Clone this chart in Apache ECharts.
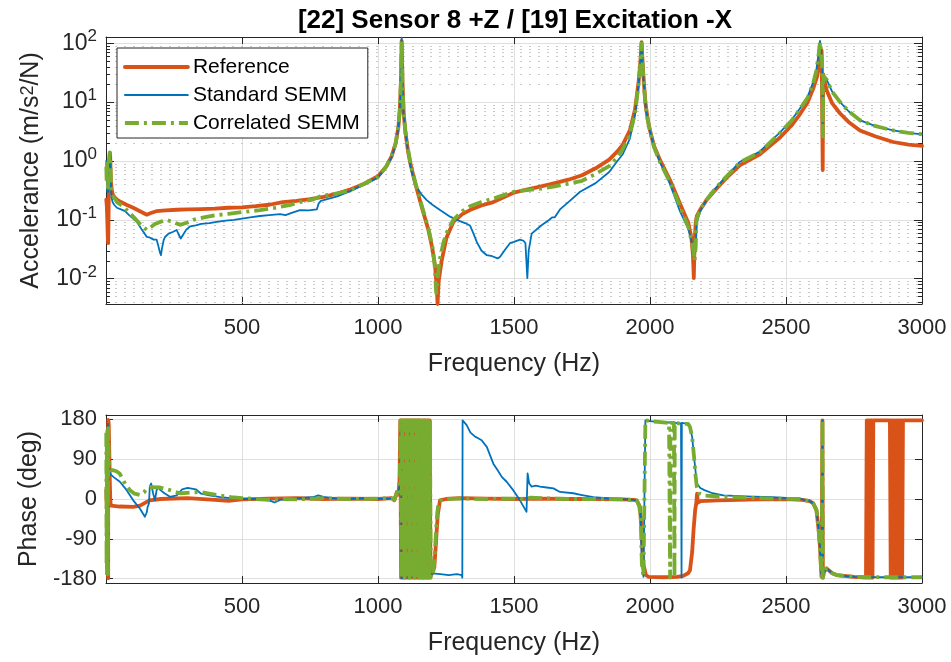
<!DOCTYPE html>
<html>
<head>
<meta charset="utf-8">
<script src="https://cdn.jsdelivr.net/npm/echarts@6/dist/echarts.min.js"></script>
<style>
  html, body { margin: 0; padding: 0; background: #fff; }
  #chart { width: 951px; height: 662px; }
</style>
</head>
<body>
<div id="chart"></div>
<script>
// ---------- FRF magnitude, [frequency Hz, accelerance m/s^2/N] ----------
const refMag = [[1,0.22],[3,0.17],[5,0.09],[6.5,0.05],[8,0.04],[9.5,0.12],[11,0.45],[13,0.9],[15,1.36],[16.5,0.8],[18,0.45],[21,0.32],[25,0.27],[32,0.24],[40,0.22],[55,0.2],[75,0.18],[100,0.16],[125,0.14],[150,0.122],[165,0.13],[185,0.14],[220,0.145],[260,0.148],[300,0.15],[350,0.152],[400,0.155],[450,0.16],[500,0.163],[550,0.17],[600,0.18],[650,0.2],[700,0.21],[750,0.225],[800,0.245],[850,0.28],[900,0.33],[950,0.41],[1000,0.55],[1030,0.8],[1050,1.2],[1065,2.0],[1075,3.8],[1080,7],[1084,20],[1087,110],[1090,22],[1094,7],[1100,3.3],[1110,1.5],[1118,0.95],[1136,0.43],[1160,0.17],[1185,0.068],[1200,0.032],[1210,0.016],[1216,0.007],[1219,0.0037],[1223,0.009],[1234,0.02],[1252,0.05],[1277,0.092],[1310,0.125],[1338,0.146],[1380,0.175],[1424,0.2],[1470,0.25],[1500,0.29],[1550,0.33],[1600,0.37],[1650,0.42],[1700,0.48],[1750,0.57],[1800,0.75],[1850,1.05],[1880,1.45],[1900,1.9],[1926,3.3],[1945,7.5],[1958,22],[1965,50],[1969,105],[1973,45],[1978,20],[1984,9],[1992,5],[2000,3.3],[2015,1.8],[2037,1.03],[2074,0.47],[2110,0.19],[2141,0.088],[2152,0.05],[2158,0.025],[2161,0.0102],[2164,0.04],[2168,0.09],[2172,0.115],[2185,0.15],[2208,0.216],[2245,0.34],[2282,0.52],[2331,0.85],[2404,1.3],[2478,2.5],[2520,4],[2551,6.2],[2580,10],[2600,17],[2615,28],[2625,55],[2631,75],[2634,80],[2635,0.7],[2636.5,30],[2640,25],[2649,16],[2670,9.5],[2699,6.4],[2730,4.6],[2772,3.3],[2830,2.6],[2894,2.1],[2950,1.9],[3000,1.8]];

const stdMag = [[1,1.0],[2.5,0.6],[4,0.3],[5.5,0.8],[7,0.45],[8.5,0.3],[10,0.7],[12,1.1],[14,1.3],[15.5,1.2],[17,0.5],[20,0.25],[24,0.2],[30,0.18],[40,0.16],[55,0.15],[70,0.14],[85,0.12],[100,0.105],[115,0.09],[130,0.07],[140,0.06],[150,0.051],[160,0.05],[175,0.046],[186,0.046],[193,0.035],[198,0.028],[202,0.025],[206,0.033],[212,0.045],[217,0.051],[230,0.058],[245,0.062],[260,0.067],[268,0.055],[275,0.048],[283,0.055],[295,0.068],[309,0.077],[330,0.08],[350,0.085],[380,0.088],[407,0.092],[440,0.097],[470,0.1],[500,0.105],[530,0.11],[566,0.116],[600,0.12],[640,0.125],[660,0.12],[680,0.13],[713,0.146],[745,0.145],[775,0.15],[782,0.19],[790,0.21],[850,0.25],[900,0.31],[950,0.4],[1000,0.52],[1030,0.78],[1050,1.15],[1065,1.9],[1075,3.7],[1080,7],[1084,20],[1087,125],[1090,20],[1094,6],[1100,3.2],[1110,1.5],[1118,0.85],[1130,0.5],[1142,0.36],[1160,0.27],[1179,0.216],[1200,0.18],[1228,0.146],[1265,0.113],[1301,0.095],[1320,0.088],[1338,0.08],[1350,0.06],[1363,0.042],[1380,0.03],[1400,0.025],[1420,0.024],[1440,0.022],[1449,0.0235],[1465,0.03],[1485,0.04],[1500,0.042],[1522,0.046],[1535,0.044],[1542,0.04],[1549,0.0102],[1554,0.03],[1565,0.058],[1600,0.08],[1630,0.1],[1640,0.11],[1645,0.115],[1650,0.11],[1669,0.15],[1700,0.2],[1743,0.3],[1800,0.42],[1850,0.65],[1880,1.0],[1900,1.3],[1926,2.4],[1945,6],[1958,20],[1965,45],[1969,100],[1973,40],[1978,18],[1984,8.5],[1992,4.8],[2000,3.2],[2015,1.7],[2037,0.95],[2074,0.4],[2098,0.2],[2110,0.14],[2125,0.1],[2141,0.07],[2152,0.045],[2162,0.025],[2168,0.03],[2172,0.09],[2178,0.11],[2185,0.14],[2208,0.22],[2245,0.36],[2282,0.56],[2331,0.97],[2404,1.45],[2478,3.05],[2520,4.9],[2551,7.8],[2580,12.5],[2600,22],[2612,36],[2620,70],[2625,110],[2630,70],[2634,40],[2635,3],[2637,28],[2640,30],[2650,24],[2670,15],[2699,10],[2730,7],[2772,4.9],[2830,3.9],[2894,3.3],[2950,3.0],[3000,2.84]];

const corMag = [[1,0.8],[2.5,0.45],[4,0.9],[5.5,0.55],[7,0.35],[8.5,0.5],[10,0.9],[12,1.2],[14,1.4],[16,0.9],[18,0.45],[21,0.3],[27,0.25],[40,0.2],[64,0.168],[80,0.14],[100,0.113],[125,0.085],[150,0.067],[165,0.075],[180,0.085],[199,0.092],[223,0.1],[245,0.092],[272,0.082],[300,0.09],[321,0.1],[360,0.11],[407,0.12],[450,0.126],[500,0.135],[566,0.146],[620,0.16],[680,0.18],[713,0.2],[760,0.22],[787,0.25],[850,0.28],[900,0.32],[950,0.41],[1000,0.54],[1030,0.8],[1050,1.2],[1065,2.0],[1075,3.9],[1080,7.5],[1084,21],[1087,108],[1090,22],[1094,7.2],[1100,3.4],[1110,1.6],[1118,1.0],[1136,0.45],[1160,0.18],[1185,0.072],[1200,0.035],[1208,0.018],[1214,0.0057],[1219,0.01],[1226,0.02],[1240,0.04],[1252,0.06],[1277,0.1],[1310,0.14],[1338,0.17],[1380,0.2],[1424,0.23],[1470,0.27],[1500,0.3],[1550,0.32],[1600,0.34],[1650,0.37],[1700,0.41],[1750,0.46],[1800,0.6],[1850,0.82],[1880,1.15],[1900,1.6],[1926,2.8],[1945,6.5],[1958,20],[1965,45],[1969,100],[1973,40],[1978,18],[1984,8.5],[1992,4.8],[2000,3.2],[2015,1.7],[2037,0.95],[2074,0.43],[2110,0.17],[2141,0.075],[2152,0.045],[2160,0.03],[2164,0.02],[2168,0.035],[2171,0.1],[2175,0.115],[2185,0.15],[2208,0.22],[2245,0.36],[2282,0.55],[2331,0.95],[2404,1.4],[2478,3.0],[2520,4.8],[2551,7.6],[2580,12],[2600,21],[2612,35],[2620,65],[2625,105],[2630,70],[2633,45],[2635,2.6],[2637,28],[2640,30],[2650,24],[2670,15],[2699,10],[2730,7],[2772,4.9],[2830,3.9],[2894,3.3],[2950,3.0],[3000,2.84]];

// ---------- FRF phase, [frequency Hz, degrees] ----------
const refPhase = [[1,20],[3,-20],[5,-80],[7,-150],[8,-179],[8.3,179],[10,170],[12,110],[14,40],[16,-5],[18,-15],[25,-18],[50,-17],[100,-18],[125,-15],[140,-10],[160,-3],[200,0],[300,2],[400,-2],[450,-4],[500,-1],[600,1],[700,2],[800,0],[900,1],[1000,0],[1050,2],[1060,-3],[1069,15],[1075,10],[1079,40],
  [1082,178],[1085,-178],[1088,178],[1091,-178],[1094,178],[1097,-178],[1100,178],[1103,-178],[1106,178],[1109,-178],[1112,178],[1115,-178],[1118,178],[1121,-178],[1124,178],[1127,-178],[1130,178],[1133,-178],[1136,178],[1139,-178],[1142,178],[1145,-178],[1148,178],[1151,-178],[1154,178],[1157,-178],[1160,178],[1163,-178],[1166,178],[1169,-178],[1172,178],[1175,-178],[1178,178],[1181,-178],[1184,178],[1187,-178],[1190,178],
  [1193,-176],[1200,-172],[1207,-155],[1212,-110],[1216,-70],[1220,-35],[1228,-3],[1250,0],[1300,2],[1400,1],[1500,0],[1600,1],[1700,0],[1800,0],[1900,-1],[1940,-2],[1951,-3],[1963,-18],[1969,-71],[1975,-146],[1985,-172],[1994,-176],[2050,-177],[2100,-176],[2122,-174],[2140,-168],[2147,-161],[2155,-120],[2160,-71],[2166,-25],[2170,-10],[2173,12],[2176,-8],[2185,-5],[2250,-3],[2400,-1],[2500,0],[2560,-2],[2588,-5],[2600,-10],[2612,-25],[2620,-70],[2625,-108],[2629,-160],[2631,-176],[2633,-178],[2634,178],[2635.5,-178],[2640,-165],[2649,-157],[2670,-168],[2686,-172],[2750,-176],
  [2794,-178],[2797,178],[2800,-178],[2803,178],[2806,-178],[2809,178],[2812,-178],[2815,178],[2818,-178],[2821,178],[2850,178],
  [2882,178],[2885,-178],[2888,178],[2891,-178],[2894,178],[2897,-178],[2900,178],[2903,-178],[2906,178],[2909,-178],[2912,178],[2915,-178],[2918,178],[2921,-178],[2924,178],[2927,-178],[2930,178],[2960,178],[3000,178]];

const stdPhase = [[1,-170],[2,100],[3,-120],[4,140],[5,60],[6,-160],[7,170],[8,120],[10,90],[12,70],[14,60],[18,55],[27,50],[51,39],[76,20],[100,-3],[125,-22],[143,-40],[150,-30],[153,-18],[158,-10],[161,28],[166,35],[173,13],[180,-3],[186,20],[193,27],[200,20],[215,13],[235,5],[260,8],[280,22],[300,25],[330,22],[350,12],[380,8],[420,4],[460,2],[500,0],[550,0],[600,-3],[620,-8],[640,-2],[700,2],[760,4],[780,8],[800,5],[850,1],[900,0],[950,2],[1000,0],[1050,1],[1065,5],[1075,15],[1081,35],[1084,120],[1085.5,179],[1086,-179],[1090,-176],[1150,-175],[1191,-172],[1200,-168],[1230,-170],[1260,-172],[1290,-170],[1308,-172],[1310,-178],[1311,178],[1326,167],[1340,150],[1357,141],[1370,137],[1381,133],[1400,118],[1424,80],[1440,65],[1455,50],[1473,39],[1497,20],[1522,-3],[1546,-29],[1549,-32],[1550,58],[1556,35],[1565,28],[1580,30],[1596,28],[1620,26],[1645,24],[1669,16],[1718,13],[1750,9],[1792,4],[1877,0],[1920,-1],[1951,-3],[1960,-15],[1966,-40],[1970,-146],[1976,-176],[1982,-178],[1983,178],[2000,176],[2040,174],[2080,173],[2114,171],[2116,-178],[2117,172],[2140,170],[2147,163],[2155,140],[2162,95],[2168,60],[2172,35],[2185,25],[2200,20],[2230,13],[2270,8],[2350,6],[2450,4],[2550,1],[2588,-5],[2600,-10],[2612,-25],[2620,-70],[2625,-108],[2629,-160],[2631,-176],[2633,-178],[2634,178],[2635.5,-178],[2640,-165],[2649,-157],[2670,-168],[2686,-172],[2750,-176],[2850,-177],[3000,-177]];

const corPhase = [[1,150],[2,-150],[3,140],[4,-160],[5,155],[6,120],[7,-170],[8,160],[9,130],[10,100],[12,80],[14,70],[17,65],[27,65],[40,62],[51,57],[65,40],[75,30],[88,20],[105,12],[125,9],[140,15],[150,24],[162,27],[199,26],[235,20],[272,13],[300,14],[346,16],[380,12],[419,8],[460,4],[500,2],[550,0],[600,-2],[650,0],[700,-1],[800,2],[900,0],[1000,1],[1050,2],[1060,-2],[1069,12],[1076,10],[1080,40],
  [1083,178],[1086,-178],[1089,178],[1092,-178],[1095,178],[1098,-178],[1101,178],[1104,-178],[1107,178],[1110,-178],[1113,178],[1116,-178],[1119,178],[1122,-178],[1125,178],[1128,-178],[1131,178],[1134,-178],[1137,178],[1140,-178],[1143,178],[1146,-178],[1149,178],[1152,-178],[1155,178],[1158,-178],[1161,178],[1164,-178],[1167,178],[1170,-178],[1173,178],[1176,-178],[1179,178],[1182,-178],[1185,178],[1188,-178],[1191,178],[1194,-178],
  [1196,-176],[1202,-170],[1206,-150],[1210,-110],[1214,-65],[1218,-30],[1224,-5],[1240,0],[1300,1],[1400,0],[1500,1],[1540,0],[1560,3],[1600,2],[1700,0],[1800,0],[1900,-1],[1951,-3],[1960,-15],[1966,-40],[1970,-146],[1976,-176],[1982,-178],[1983,178],[2000,176],[2040,174],[2070,172],[2073,170],[2074,-178],[2075,172],[2088,172],[2090,-178],[2091,172],[2120,170],[2140,170],[2147,163],[2155,140],[2162,95],[2168,50],[2172,28],[2180,13],[2200,8],[2270,5],[2350,3],[2450,1],[2550,0],[2588,-5],[2600,-10],[2612,-25],[2620,-70],[2625,-108],[2629,-160],[2631,-176],[2633,-178],[2634,178],[2635.5,-178],[2640,-165],[2649,-157],[2670,-168],[2686,-172],[2750,-176],[2850,-177],[3000,-177]];

// ---------- axes ----------
const freqRange = [0, 3000];
const freqStep = 500;
const magRange = [0.0037, 128];
const phaseRange = [-190, 190];
const phaseTicks = [-180, -90, 0, 90, 180];
const magMinorTicks = [0.004,0.005,0.006,0.007,0.008,0.009,0.02,0.03,0.04,0.05,0.06,0.07,0.08,0.09,0.2,0.3,0.4,0.5,0.6,0.7,0.8,0.9,2,3,4,5,6,7,8,9,20,30,40,50,60,70,80,90];

const titleText = '[22] Sensor 8 +Z / [19] Excitation -X';
const seriesNames = ['Reference', 'Standard SEMM', 'Correlated SEMM'];

const FONT = '"Liberation Sans", Arial, Helvetica, sans-serif';
const AX = '#262626';
const GRID_C = '#dfdfdf';
const C_REF = '#D95319', C_STD = '#0072BD', C_COR = '#77AC30';

const chart = echarts.init(document.getElementById('chart'), null, { renderer: 'canvas' });

function xAx(grid, pos, withLabels) {
  return {
    type: 'value', gridIndex: grid, position: pos,
    min: freqRange[0], max: freqRange[1], interval: freqStep,
    axisLine: { show: true, onZero: false, lineStyle: { color: AX, width: 1 } },
    axisTick: { show: true, inside: true, length: 7, lineStyle: { color: AX } },
    axisLabel: withLabels ? {
      show: true, fontSize: 22, color: AX, fontFamily: FONT, margin: 13,
      showMinLabel: false, formatter: v => String(v)
    } : { show: false },
    splitLine: { show: withLabels, lineStyle: { color: GRID_C, width: 1 } },
    name: withLabels ? 'Frequency (Hz)' : '',
    nameLocation: 'middle', nameGap: 48,
    nameTextStyle: { fontSize: 25, color: AX, fontFamily: FONT }
  };
}

function magAx(pos, withLabels) {
  return {
    type: 'log', logBase: 10, gridIndex: 0, position: pos,
    min: magRange[0], max: magRange[1],
    axisLine: { show: true, onZero: false, lineStyle: { color: AX, width: 1 } },
    axisTick: { show: true, inside: true, length: 8, lineStyle: { color: AX } },
    axisLabel: withLabels ? {
      show: true, margin: 9, color: AX, fontFamily: FONT,
      formatter: v => {
        const e = Math.log10(v);
        const r = Math.round(e);
        if (Math.abs(e - r) > 1e-6) return '';
        return '{b|10}{e|' + r + '}';
      },
      rich: {
        b: { fontSize: 23, fontFamily: FONT, color: AX, lineHeight: 30 },
        e: { fontSize: 17, fontFamily: FONT, color: AX, lineHeight: 17, verticalAlign: 'top' }
      }
    } : { show: false },
    splitLine: { show: withLabels, lineStyle: { color: GRID_C, width: 1 } },
    name: withLabels ? 'Accelerance (m/s{s|2}/N)' : '',
    nameLocation: 'middle', nameGap: 62, nameRotate: 90,
    nameTextStyle: {
      fontSize: 25, color: AX, fontFamily: FONT,
      rich: { s: { fontSize: 18, fontFamily: FONT, color: AX, verticalAlign: 'top', lineHeight: 18 } }
    }
  };
}

function phaseAx(pos, withLabels) {
  return {
    type: 'value', gridIndex: 1, position: pos,
    min: phaseRange[0], max: phaseRange[1],
    axisLine: { show: true, onZero: false, lineStyle: { color: AX, width: 1 } },
    axisTick: { show: true, inside: true, length: 7, lineStyle: { color: AX }, customValues: phaseTicks },
    axisLabel: withLabels ? { show: true, fontSize: 22, color: AX, fontFamily: FONT, margin: 9, customValues: phaseTicks } : { show: false, customValues: phaseTicks },
    splitLine: { show: withLabels, lineStyle: { color: GRID_C, width: 1 } },
    name: withLabels ? 'Phase (deg)' : '',
    nameLocation: 'middle', nameGap: 64, nameRotate: 90,
    nameTextStyle: { fontSize: 25, color: AX, fontFamily: FONT }
  };
}

function lineSeries(name, data, xi, yi, color, width, dash, z) {
  return {
    name, type: 'line', data, xAxisIndex: xi, yAxisIndex: yi,
    showSymbol: false, symbol: 'none', silent: true, clip: true,
    lineStyle: { color, width, type: dash || 'solid', cap: dash ? 'butt' : 'round', join: 'round' },
    itemStyle: { color },
    z
  };
}

// dotted minor grid and minor ticks of the log axis, placed through the axis scale
const minorSeries = {
  type: 'custom', xAxisIndex: 0, yAxisIndex: 0, silent: true, z: 1,
  data: magMinorTicks.map(v => [freqRange[0], v]),
  encode: { x: 0, y: 1 },
  renderItem: (params, api) => {
    const y = Math.round(api.coord([freqRange[0], api.value(1)])[1]) + 0.5;
    const cs = params.coordSys;
    return {
      type: 'group',
      children: [
        { type: 'line', shape: { x1: cs.x, y1: y, x2: cs.x + cs.width, y2: y },
          style: { stroke: '#c9c9c9', lineWidth: 1, lineDash: [2, 7] } },
        { type: 'line', shape: { x1: cs.x, y1: y, x2: cs.x + 4, y2: y },
          style: { stroke: AX, lineWidth: 1 } },
        { type: 'line', shape: { x1: cs.x + cs.width - 4, y1: y, x2: cs.x + cs.width, y2: y },
          style: { stroke: AX, lineWidth: 1 } }
      ]
    };
  }
};

const dashDot = [14, 5, 3, 5];

chart.setOption({
  animation: false,
  backgroundColor: '#ffffff',
  textStyle: { fontFamily: FONT },
  title: {
    text: titleText, left: 510, top: 3, textAlign: 'center',
    textStyle: { fontSize: 26, fontWeight: 'bold', color: '#000', fontFamily: FONT }
  },
  legend: {
    data: seriesNames, orient: 'vertical', left: 117, top: 48,
    itemWidth: 63, itemHeight: 14, itemGap: 6,
    padding: [8, 8, 4, 6],
    backgroundColor: '#ffffff', borderColor: AX, borderWidth: 1, borderRadius: 0,
    selectedMode: false,
    itemStyle: { opacity: 0, borderWidth: 0 },
    lineStyle: { width: 'inherit', type: 'inherit' },
    textStyle: { fontSize: 21, color: '#000', fontFamily: FONT, lineHeight: 22 }
  },
  grid: [
    { left: 106, top: 37, width: 816, height: 267 },
    { left: 106, top: 415, width: 816, height: 168 }
  ],
  xAxis: [xAx(0, 'bottom', true), xAx(0, 'top', false), xAx(1, 'bottom', true), xAx(1, 'top', false)],
  yAxis: [magAx('left', true), magAx('right', false), phaseAx('left', true), phaseAx('right', false)],
  series: [
    minorSeries,
    lineSeries('Reference', refMag, 0, 0, C_REF, 3.8, null, 3),
    lineSeries('Standard SEMM', stdMag, 0, 0, C_STD, 1.8, null, 4),
    lineSeries('Correlated SEMM', corMag, 0, 0, C_COR, 3.8, dashDot, 5),
    lineSeries('Reference', refPhase, 2, 2, C_REF, 3.8, null, 3),
    lineSeries('Standard SEMM', stdPhase, 2, 2, C_STD, 1.8, null, 4),
    lineSeries('Correlated SEMM', corPhase, 2, 2, C_COR, 3.8, dashDot, 5)
  ]
});
</script>
</body>
</html>
